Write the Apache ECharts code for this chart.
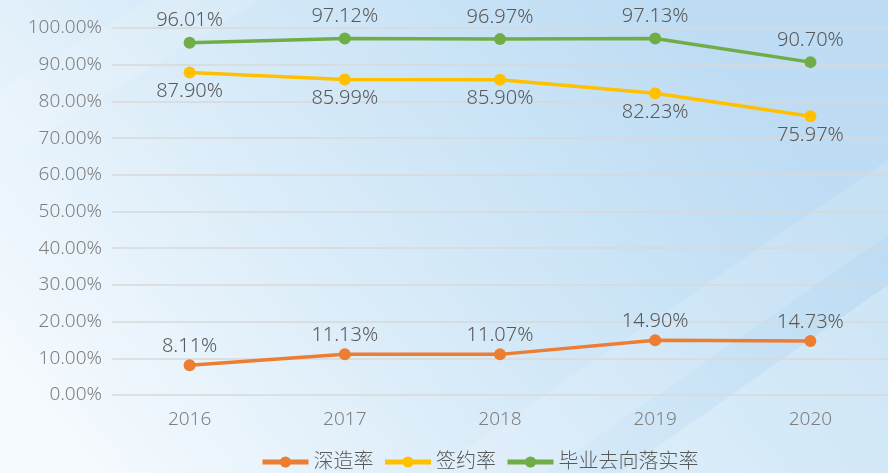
<!DOCTYPE html>
<html>
<head>
<meta charset="utf-8">
<script src="https://cdn.jsdelivr.net/npm/echarts@6/dist/echarts.min.js"></script>
<style>
html,body{margin:0;padding:0;}
#chart{width:888px;height:473px;}
</style>
</head>
<body>
<div id="chart"></div>
<script>
// Graduate outcome rates by year (%)
const years = ['2016', '2017', '2018', '2019', '2020'];
const furtherStudy = [8.11, 11.13, 11.07, 14.90, 14.73];      // 深造率
const contracted = [87.90, 85.99, 85.90, 82.23, 75.97];       // 签约率
const placement = [96.01, 97.12, 96.97, 97.13, 90.70];        // 毕业去向落实率
const seriesNames = ['深造率', '签约率', '毕业去向落实率'];

const chart = echarts.init(document.getElementById('chart'));
const FONT = '"Noto Sans", "Noto Sans CJK SC", sans-serif';

function lineSeries(name, data, color, labelPos, dist) {
  return {
    name: name,
    type: 'line',
    data: data,
    symbol: 'circle',
    symbolSize: 12,
    lineStyle: { width: 3.5, color: color },
    itemStyle: { color: color },
    label: {
      show: true,
      position: labelPos,
      distance: dist,
      formatter: p => p.value.toFixed(2) + '%',
      fontFamily: FONT,
      fontSize: 20,
      fontWeight: 300,
      color: '#595959'
    },
    z: 3
  };
}

chart.setOption({
  backgroundColor: {
    type: 'linear', x: 0.1, y: 1, x2: 0.75, y2: 0,
    colorStops: [
      { offset: 0, color: '#f5fafe' },
      { offset: 0.4, color: '#dcedf9' },
      { offset: 0.75, color: '#c9e3f6' },
      { offset: 1, color: '#bedcf3' }
    ]
  },
  graphic: [
    {
      type: 'polygon', silent: true, z: -1,
      shape: { points: [[430, 473], [888, 160], [888, 235], [545, 473]] },
      style: { fill: 'rgba(255,255,255,0.14)' }
    },
    {
      type: 'polygon', silent: true, z: -1,
      shape: { points: [[620, 473], [888, 285], [888, 473]] },
      style: { fill: 'rgba(235,245,252,0.35)' }
    },
    {
      type: 'polygon', silent: true, z: -1,
      shape: { points: [[0, 90], [150, 0], [260, 0], [0, 160]] },
      style: { fill: 'rgba(255,255,255,0.12)' }
    }
  ],
  color: ['#ED7D31', '#FFC000', '#70AD47'],
  grid: { left: 112, right: -7, top: 28, bottom: 78, containLabel: false },
  legend: {
    bottom: -4,
    left: 255,
    itemWidth: 46,
    itemHeight: 14,
    itemGap: 9,
    data: seriesNames,
    lineStyle: { width: 5 },
    textStyle: { fontFamily: FONT, fontSize: 20, fontWeight: 300, color: '#595959' }
  },
  xAxis: {
    type: 'category',
    data: years,
    boundaryGap: true,
    axisLine: { show: false },
    axisTick: { show: false },
    axisLabel: { fontFamily: FONT, fontSize: 19, fontWeight: 300, color: '#7f7f7f', margin: 15 }
  },
  yAxis: {
    type: 'value',
    min: 0,
    max: 100,
    interval: 10,
    axisLine: { show: false },
    axisTick: { show: false },
    axisLabel: {
      fontFamily: FONT, fontSize: 19, fontWeight: 300, color: '#7f7f7f', margin: 10,
      formatter: v => v.toFixed(2) + '%'
    },
    splitLine: { lineStyle: { color: '#d9d9d9', width: 1.5 } }
  },
  series: [
    lineSeries(seriesNames[0], furtherStudy, '#ED7D31', 'top', 3),
    lineSeries(seriesNames[1], contracted, '#FFC000', 'bottom', 3),
    lineSeries(seriesNames[2], placement, '#70AD47', 'top', 6)
  ]
});
</script>
</body>
</html>
